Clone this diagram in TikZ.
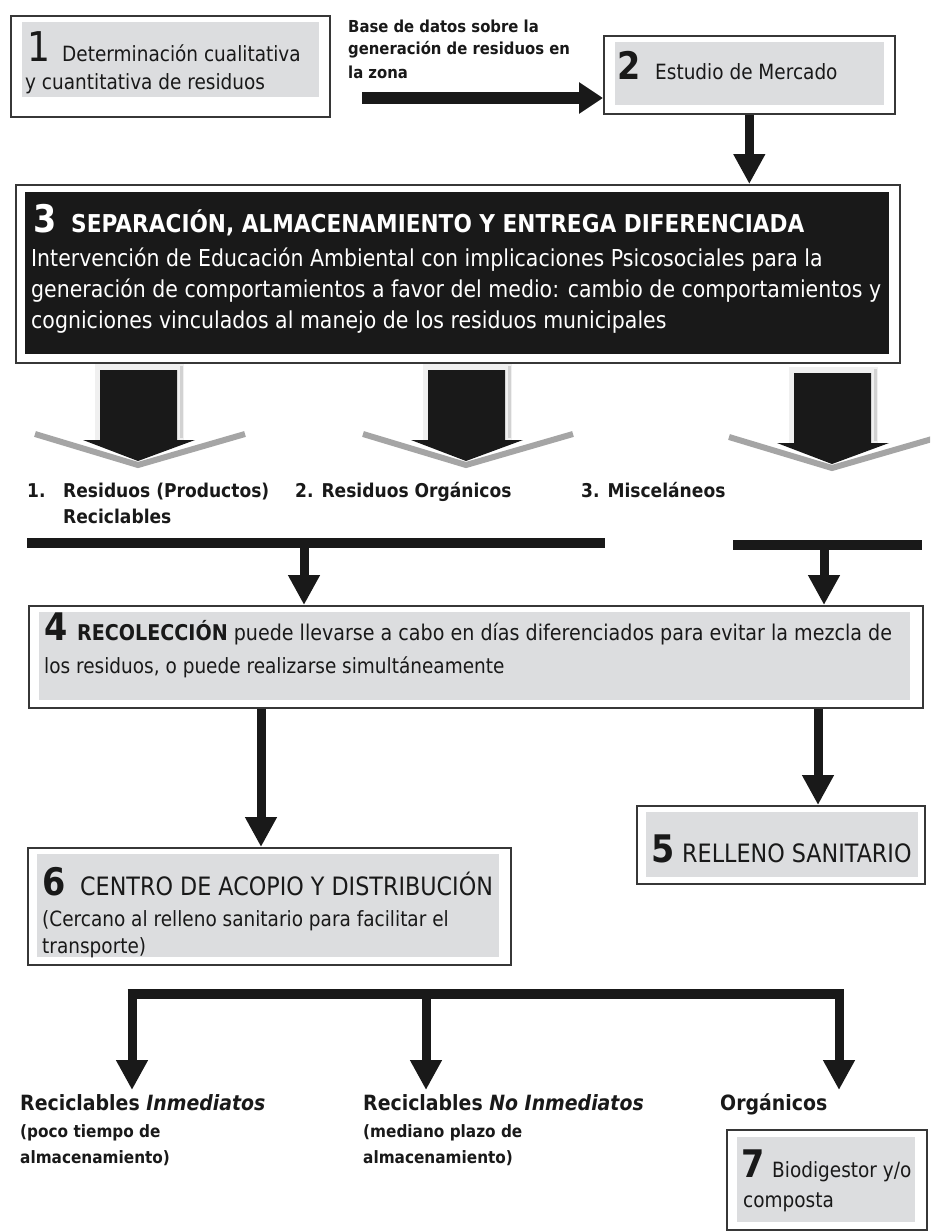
\documentclass[tikz,border=0pt]{standalone}
\usepackage{fontspec}
\setmainfont{DejaVu Sans}[FakeStretch=0.88]
\newfontfamily\labf{DejaVu Sans}[FakeStretch=0.9]
\usetikzlibrary{arrows.meta}
\definecolor{boxgray}{RGB}{220,221,223}
\definecolor{inkblack}{RGB}{25,25,25}
\definecolor{edge}{RGB}{55,55,55}
\definecolor{chev}{RGB}{165,165,165}
\newcommand\fs[1]{\fontsize{#1}{#1}\selectfont}
\begin{document}
\begin{tikzpicture}[x=1pt,y=-1pt,
  outerbox/.style={draw=edge, line width=1.6pt, fill=white, inner sep=0pt, anchor=north west},
  txt/.style={anchor=base west, inner sep=0pt, text=inkblack, font=\fs{21}},
  wtxt/.style={txt, text=white, font=\fs{23.3}},
  digit/.style={txt, font=\bfseries\fs{38}},
  lab/.style={txt, font=\labf\bfseries\fs{19}},
  toplab/.style={txt, font=\labf\bfseries\fs{16.5}},
  botlab/.style={txt, font=\labf\bfseries\fs{17}},
  bothead/.style={txt, font=\labf\bfseries\fs{21}},
  conn/.style={draw=inkblack, line width=9pt, -{Triangle[width=30pt,length=30pt]}},
  bar/.style={draw=inkblack, line width=10pt},
]
\useasboundingbox (0,0) rectangle (930,1231);
\fill[white] (0,0) rectangle (930,1231);
\clip (0,0) rectangle (930,1231);

% ---------- boxes ----------
\node[outerbox, minimum width=319pt, minimum height=101pt] (b1) at (10,15) {};
\fill[boxgray] (22,22) rectangle (319,97);
\node[outerbox, minimum width=291pt, minimum height=78pt] (b2) at (603,35) {};
\fill[boxgray] (615,42) rectangle (884,105);
\node[outerbox, minimum width=884pt, minimum height=178pt] (b3) at (15,184) {};
\fill[inkblack] (25,192) rectangle (889,354);
\node[outerbox, minimum width=894pt, minimum height=102pt] (b4) at (28,605) {};
\fill[boxgray] (39,612) rectangle (910,700);
\node[outerbox, minimum width=288pt, minimum height=78pt] (b5) at (636,805) {};
\fill[boxgray] (646,812) rectangle (918,877);
\node[outerbox, minimum width=483pt, minimum height=117pt] (b6) at (27,847) {};
\fill[boxgray] (37,854) rectangle (499,957);
\node[outerbox, minimum width=200pt, minimum height=100pt] (b7) at (726,1129) {};
\fill[boxgray] (737,1137) rectangle (915,1222);

% ---------- block arrows ----------
\foreach \cx/\dy in {138/0, 466/0, 832/3}{
  \begin{scope}[yshift=-\dy pt]
    \fill[gray!12] (\cx-43,364) rectangle (\cx+46,440);
    \draw[gray!35, line width=3pt] (\cx+43,366) -- (\cx+43,438);
    \draw[chev, line width=6pt, line join=miter] (\cx-103,434) -- (\cx,465) -- (\cx+107,434);
    \fill[inkblack] (\cx-38,370) -- (\cx+39,370) -- (\cx+39,440) -- (\cx+57,440)
      -- (\cx,461) -- (\cx-55,440) -- (\cx-38,440) -- cycle;
  \end{scope}
}

% ---------- connectors ----------
\coordinate (a0) at (362,98);
\draw[conn, line width=12pt, -{Triangle[width=30pt,length=24pt]}] (a0) -- (a0 -| b2.west);
\draw[conn] (b2.south) -- (b2.south |- b3.north);

\coordinate (bar1l) at (27,543);
\coordinate (bar1r) at (605,543);
\coordinate (bar1m) at (304,543);
\draw[bar] (bar1l) -- (bar1r);
\draw[conn] (bar1m) -- (bar1m |- b4.north);
\coordinate (bar2l) at (733,545);
\coordinate (bar2r) at (922,545);
\coordinate (bar2m) at (824,545);
\draw[bar] (bar2l) -- (bar2r);
\draw[conn] (bar2m) -- (bar2m |- b4.north);

\coordinate (d6) at (261,0);
\coordinate (d5) at (818,0);
\draw[conn] (b4.south -| d6) -- (d6 |- b6.north);
\draw[conn] (b4.south -| d5) -- (d5 |- b5.north);

\coordinate (bar3l) at (127.5,994);
\coordinate (bar3r) at (843.5,994);
\draw[bar] (bar3l) -- (bar3r);
\coordinate (s1) at (132,989);
\coordinate (s2) at (426,989);
\coordinate (s3) at (839,989);
\coordinate (e1) at (132,1090);
\coordinate (e2) at (426,1090);
\coordinate (e3) at (839,1090);
\draw[conn] (s1) -- (e1);
\draw[conn] (s2) -- (e2);
\draw[conn] (s3) -- (e3);

% ---------- texts ----------
\node[txt, font=\fs{41}] (t1n) at (27,62) {1};
\node[txt] (t1a) at (62,62) {Determinación cualitativa};
\node[txt] (t1b) at (25,89) {y cuantitativa de residuos};

\node[toplab] (tla) at (348,33) {Base de datos sobre la};
\node[toplab] (tlb) at (348,55) {generación de residuos en};
\node[toplab] (tlc) at (348,78) {la zona};

\node[digit] (t2n) at (617,80) {2};
\node[txt] (t2a) at (655,80) {Estudio de Mercado};

\node[digit, text=white] (t3n) at (33,232) {3};
\node[wtxt, font=\bfseries\fs{24.6}] (t3a) at (71,232) {SEPARACIÓN, ALMACENAMIENTO Y ENTREGA DIFERENCIADA};
\node[wtxt] (t3b) at (31,266) {Intervención de Educación Ambiental con implicaciones Psicosociales para la};
\node[wtxt] (t3c) at (31,297) {generación de comportamientos a favor del medio: cambio de comportamientos y};
\node[wtxt] (t3d) at (31,328) {cogniciones vinculados al manejo de los residuos municipales};

\node[lab] (tr1n) at (27,497) {1.};
\node[lab] (tr1a) at (63,497) {Residuos (Productos)};
\node[lab] (tr1b) at (63,523) {Reciclables};
\node[lab] (tr2) at (295,497) {2. Residuos Orgánicos};
\node[lab] (tr3) at (581,497) {3. Misceláneos};

\node[digit] (t4n) at (44,640) {4};
\node[txt, font=\fs{21.7}] (t4a) at (77,640) {{\bfseries RECOLECCIÓN} puede llevarse a cabo en días diferenciados para evitar la mezcla de};
\node[txt] (t4b) at (44,673) {los residuos, o puede realizarse simultáneamente};

\node[digit] (t5n) at (651,862) {5};
\node[txt, font=\fs{25.3}] (t5a) at (682,862) {RELLENO SANITARIO};

\node[digit] (t6n) at (42,895) {6};
\node[txt, font=\fs{25.3}] (t6a) at (80,895) {CENTRO DE ACOPIO Y DISTRIBUCIÓN};
\node[txt] (t6b) at (42,926) {(Cercano al relleno sanitario para facilitar el};
\node[txt] (t6c) at (42,953) {transporte)};

\node[bothead] (tb1a) at (20,1110) {Reciclables {\itshape Inmediatos}};
\node[botlab] (tb1b) at (20,1137) {(poco tiempo de};
\node[botlab] (tb1c) at (20,1163) {almacenamiento)};
\node[bothead] (tb2a) at (363,1110) {Reciclables {\itshape No Inmediatos}};
\node[botlab] (tb2b) at (363,1137) {(mediano plazo de};
\node[botlab] (tb2c) at (363,1163) {almacenamiento)};
\node[bothead] (tb3a) at (720,1110) {Orgánicos};

\node[digit] (t7n) at (741,1177) {7};
\node[txt] (t7a) at (772,1177) {Biodigestor y/o};
\node[txt] (t7b) at (743,1207) {composta};
\end{tikzpicture}
\end{document}
